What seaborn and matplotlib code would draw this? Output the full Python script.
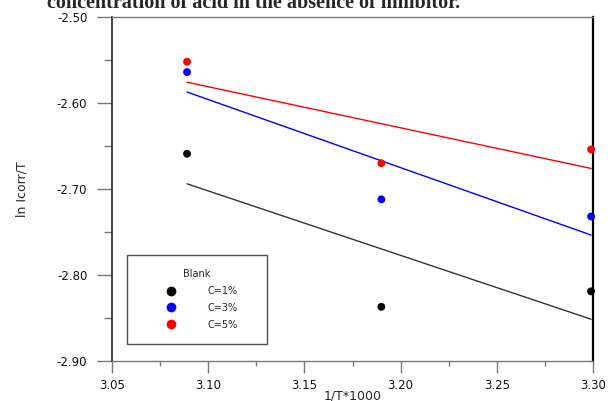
import matplotlib
matplotlib.use("Agg")
import matplotlib.pyplot as plt
import seaborn as sns
import numpy as np
import pandas as pd
from matplotlib.lines import Line2D
from matplotlib.ticker import MultipleLocator

# ---- data ----
x_vals = [3.089, 3.190, 3.299]
c1 = [-2.659, -2.837, -2.819]
c3 = [-2.564, -2.712, -2.732]
c5 = [-2.552, -2.670, -2.654]
series_names = ["C=1%", "C=3%", "C=5%"]
series_colors = ["#000000", "#0000ff", "#ff0000"]
line_colors = ["#333333", "#0000ff", "#ff0000"]
xticks = [3.05, 3.10, 3.15, 3.20, 3.25, 3.30]
xtick_labels = ["3.05", "3.10", "3.15", "3.20", "3.25", "3.30"]
yticks = [-2.90, -2.80, -2.70, -2.60, -2.50]
ytick_labels = ["-2.90", "-2.80", "-2.70", "-2.60", "-2.50"]
title_text = "concentration of acid in the absence of inhibitor."

df = pd.DataFrame({
    "x": x_vals * 3,
    "y": c1 + c3 + c5,
    "series": sum([[n] * len(x_vals) for n in series_names], []),
})

sns.set_style("white")
plt.rcParams["font.family"] = ["DejaVu Sans"]

fig = plt.figure(figsize=(6.08, 4.01), dpi=100)
ax = fig.add_axes([112 / 608, 1 - 361 / 401, 481 / 608, 344 / 401])

for name, lc in zip(series_names, line_colors):
    sub = df[df["series"] == name]
    sns.regplot(data=sub, x="x", y="y", scatter=False, ci=None, truncate=True,
                ax=ax, line_kws=dict(color=lc, lw=1.0))

sns.scatterplot(data=df, x="x", y="y", hue="series", palette=series_colors,
                hue_order=series_names, s=32, edgecolor="none", legend=False,
                ax=ax, zorder=5, clip_on=False)

ax.set_xlim(3.05, 3.30)
ax.set_ylim(-2.90, -2.50)
ax.set_xticks(xticks, xtick_labels)
ax.set_yticks(yticks, ytick_labels)
ax.xaxis.set_minor_locator(MultipleLocator(0.025))
ax.yaxis.set_minor_locator(MultipleLocator(0.05))
ax.tick_params(axis="x", which="major", direction="out", length=8.6, width=1,
               color="#777777", labelsize=8.5, pad=4.5, bottom=True)
ax.tick_params(axis="x", which="minor", direction="out", length=3.6, width=1,
               color="#777777", bottom=True)
ax.tick_params(axis="y", which="major", direction="out", length=10.8, width=1,
               color="#777777", labelsize=8.5, pad=7, left=True)
ax.tick_params(axis="y", which="minor", direction="out", length=5.8, width=1,
               color="#777777", left=True)
for lbl in ax.get_xticklabels() + ax.get_yticklabels():
    lbl.set_color("#111111")

for side in ["top", "bottom"]:
    ax.spines[side].set_color("#777777")
    ax.spines[side].set_linewidth(1.0)
ax.spines["left"].set_color("#222222")
ax.spines["left"].set_linewidth(1.2)
ax.spines["right"].set_color("#000000")
ax.spines["right"].set_linewidth(1.6)

ax.set_xlabel("1/T*1000", fontsize=9, labelpad=-2)
ax.set_ylabel("ln Icorr/T", fontsize=9, labelpad=20)

handles = [Line2D([], [], marker="o", ls="none", color=c, markersize=7,
                  markeredgewidth=0) for c in series_colors]
leg = ax.legend(handles, series_names, title="Blank", loc="lower left",
                bbox_to_anchor=(0.031, 0.049, 0.291, 0.265), mode="expand",
                borderaxespad=0, fontsize=7, title_fontsize=7, frameon=True,
                fancybox=False, edgecolor="#222222", borderpad=1.5,
                handlelength=6.0, handletextpad=0.8, labelspacing=0.7)
leg.get_frame().set_linewidth(1.0)

fig.text(254 / 608, 1 - 8 / 401, title_text, ha="center", va="baseline",
         fontsize=14.5, fontweight="bold", family=["Liberation Serif", "DejaVu Serif"])

fig.savefig("out.png", dpi=100)
